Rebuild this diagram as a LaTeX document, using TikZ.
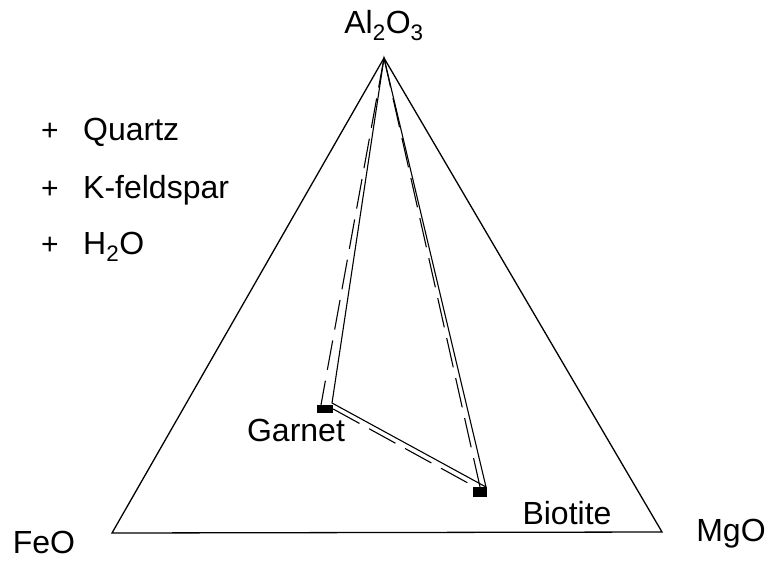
\documentclass[tikz,border=0pt]{standalone}
\usepackage{fontspec}
\setmainfont{Liberation Sans}
\usepackage{tikz}
\usetikzlibrary{calc,positioning}

\begin{document}
\begin{tikzpicture}[x=1pt, y=-1pt,
 lbl/.style={font=\fontsize{32}{38}\selectfont, inner sep=0pt},
 tieline/.style={line width=1.1pt},
 dashtie/.style={line width=1.1pt, dash pattern=on 30pt off 11pt},
 phase/.style={fill=black, inner sep=0pt, minimum width=16pt, minimum height=8pt}]
\useasboundingbox (0,0) rectangle (768,560);

% Corners
\coordinate (al) at (384,58);
\coordinate (fe) at (112,533);
\coordinate (mg) at (662,532);

% Triangle
\draw[line width=1.3pt, line join=miter] (fe) -- (mg) -- (al) -- cycle;

% Phases
\coordinate (grt) at (332,403);
\coordinate (bt) at (486,487);
\node[phase] (grtbox) at (325,409) {};
\node[phase, minimum width=14pt, minimum height=10pt] (btbox) at (480,492) {};

% Solid tie lines
\draw[tieline] (al) -- (grt) -- (bt) -- cycle;

% Dashed tie lines
\draw[dashtie] (al) -- ($(grtbox.north)+(-4,0)$);
\draw[dashtie] (al) -- (btbox.north);
\draw[dashtie] (grtbox.east) -- ($(btbox.north west)+(2,0)$);

% Corner labels
\node[lbl, anchor=base] (allbl) at (384,33) {Al\textsubscript{2}O\textsubscript{3}};
\node[lbl, anchor=base] (felbl) at (44,553) {FeO};
\node[lbl, anchor=base] (mglbl) at (731,541) {MgO};

% Phase labels
\node[lbl, anchor=base] (grtlbl) at (296,441) {Garnet};
\node[lbl, anchor=base] (btlbl) at (567,524) {Biotite};

% Excess phases
\foreach \y/\txt [count=\i] in {140/Quartz, 198/K-feldspar, 254/H\textsubscript{2}O} {
 \node[lbl, anchor=base, font=\fontsize{30}{34}\selectfont] (plus\i) at (50,\y) {+};
 \node[lbl, anchor=base west] (xs\i) at (83,\y) {\txt};
}
\end{tikzpicture}
\end{document}
